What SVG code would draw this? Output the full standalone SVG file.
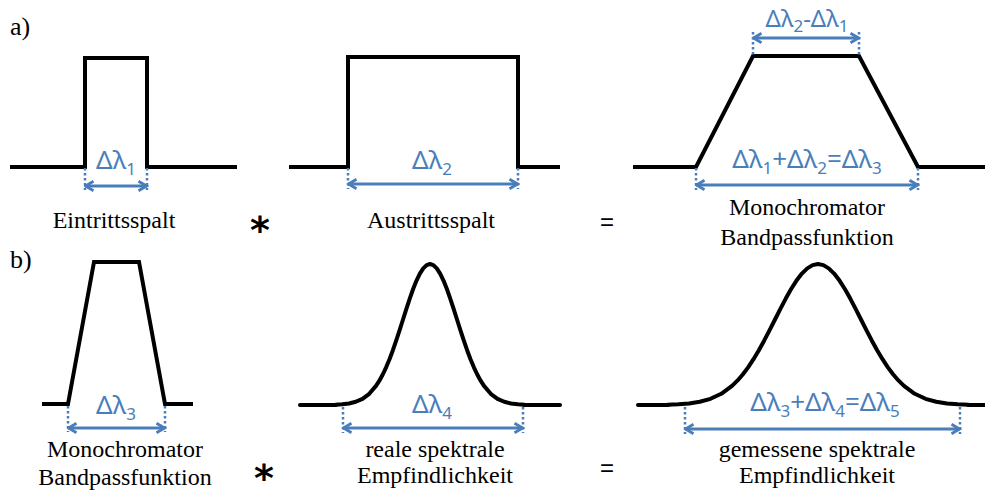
<svg xmlns="http://www.w3.org/2000/svg" width="985" height="499" viewBox="0 0 985 499">
<style>
.curve{fill:none;stroke:#000;stroke-width:4;stroke-linejoin:miter;stroke-linecap:butt}
.gauss{fill:none;stroke:#000;stroke-width:4;stroke-linejoin:round;stroke-linecap:round}
.dot{stroke:#4a7ebb;stroke-width:2.5;stroke-dasharray:2.5 2.5}
.arr{stroke:#4a7ebb;stroke-width:3;fill:none;marker-start:url(#ah);marker-end:url(#ah)}
.bl{font-family:'Noto Sans',sans-serif;font-size:26px;fill:#4a7ebb;text-anchor:middle}
.sub{font-size:17px}
.lab{font-family:'Times New Roman','Liberation Serif',serif;font-size:24px;fill:#000;text-anchor:middle}
.lt{font-family:'Times New Roman','Liberation Serif',serif;font-size:26px;fill:#000}
.op{font-family:'DejaVu Sans',sans-serif;font-weight:bold;font-size:38px;fill:#000;text-anchor:middle}
.eq{font-family:'Liberation Sans',Arial,sans-serif;font-size:24px;fill:#000;text-anchor:middle}
</style>
<defs>
<marker id="ah" viewBox="0 0 12 12" refX="10.5" refY="6" markerWidth="12" markerHeight="12" markerUnits="userSpaceOnUse" orient="auto-start-reverse">
<path d="M2,1.2 L10,6 L2,10.8" fill="none" stroke="#4a7ebb" stroke-width="2.8"/>
</marker>
</defs>

<text class="lt" x="10" y="35">a)</text>
<text class="lt" x="10" y="268">b)</text>

<g id="eintrittsspalt">
<polyline class="curve" points="10,167 85,167 85,58 147,58 147,167 237,167"/>
<text class="bl" x="116" y="169">Δλ<tspan class="sub" dy="6">1</tspan></text>
<text class="lab" x="114" y="228">Eintrittsspalt</text>
</g>

<g id="austrittsspalt">
<polyline class="curve" points="289,167 348,167 348,57 518,57 518,167 560,167"/>
<text class="bl" x="432" y="169">Δλ<tspan class="sub" dy="6">2</tspan></text>
<text class="lab" x="431" y="228">Austrittsspalt</text>
</g>

<g id="bandpass-a">
<polyline class="curve" points="633,167 696,167 753,56 859,56 918,167 985,167"/>
<text class="bl" x="807" y="27" style="font-size:24px">Δλ<tspan class="sub" dy="5">2</tspan><tspan dy="-5">-Δλ</tspan><tspan class="sub" dy="5">1</tspan></text>
<text class="bl" x="807" y="168">Δλ<tspan class="sub" dy="6">1</tspan><tspan dy="-6">+Δλ</tspan><tspan class="sub" dy="6">2</tspan><tspan dy="-6">=Δλ</tspan><tspan class="sub" dy="6">3</tspan></text>
<text class="lab" x="807" y="215">Monochromator</text>
<text class="lab" x="807" y="245">Bandpassfunktion</text>
</g>

<g id="bandpass-b">
<polyline class="curve" points="42,404 68,404 94,262 139,262 165,404 193,404"/>
<text class="bl" x="116" y="414">Δλ<tspan class="sub" dy="6">3</tspan></text>
<text class="lab" x="125" y="457">Monochromator</text>
<text class="lab" x="125" y="485">Bandpassfunktion</text>
</g>

<g id="reale-empfindlichkeit">
<line class="gauss" x1="300" y1="405" x2="336" y2="405"/>
<line class="gauss" x1="524" y1="405" x2="560" y2="405"/>
<polyline class="gauss" vector-effect="non-scaling-stroke" transform="translate(430,405) scale(27,141)" points="-3.5,-.0022 -3.25,-.0051 -3,-.0111 -2.75,-.0228 -2.5,-.0439 -2.25,-.0796 -2,-.1353 -1.875,-.1724 -1.75,-.2163 -1.625,-.2671 -1.5,-.3247 -1.375,-.3886 -1.25,-.4578 -1.125,-.5311 -1,-.6065 -.875,-.6819 -.75,-.7548 -.625,-.8226 -.5,-.8825 -.375,-.9321 -.25,-.9692 -.125,-.9922 0,-1 .125,-.9922 .25,-.9692 .375,-.9321 .5,-.8825 .625,-.8226 .75,-.7548 .875,-.6819 1,-.6065 1.125,-.5311 1.25,-.4578 1.375,-.3886 1.5,-.3247 1.625,-.2671 1.75,-.2163 1.875,-.1724 2,-.1353 2.25,-.0796 2.5,-.0439 2.75,-.0228 3,-.0111 3.25,-.0051 3.5,-.0022"/>
<text class="bl" x="432" y="413">Δλ<tspan class="sub" dy="6">4</tspan></text>
<text class="lab" x="435" y="457">reale spektrale</text>
<text class="lab" x="435" y="483">Empfindlichkeit</text>
</g>

<g id="gemessene-empfindlichkeit">
<line class="gauss" x1="638" y1="405" x2="668" y2="405"/>
<line class="gauss" x1="968" y1="405" x2="985" y2="405"/>
<polyline class="gauss" vector-effect="non-scaling-stroke" transform="translate(818,405) scale(43,141)" points="-3.5,-.0022 -3.25,-.0051 -3,-.0111 -2.75,-.0228 -2.5,-.0439 -2.25,-.0796 -2,-.1353 -1.875,-.1724 -1.75,-.2163 -1.625,-.2671 -1.5,-.3247 -1.375,-.3886 -1.25,-.4578 -1.125,-.5311 -1,-.6065 -.875,-.6819 -.75,-.7548 -.625,-.8226 -.5,-.8825 -.375,-.9321 -.25,-.9692 -.125,-.9922 0,-1 .125,-.9922 .25,-.9692 .375,-.9321 .5,-.8825 .625,-.8226 .75,-.7548 .875,-.6819 1,-.6065 1.125,-.5311 1.25,-.4578 1.375,-.3886 1.5,-.3247 1.625,-.2671 1.75,-.2163 1.875,-.1724 2,-.1353 2.25,-.0796 2.5,-.0439 2.75,-.0228 3,-.0111 3.25,-.0051 3.5,-.0022"/>
<text class="bl" x="825" y="411">Δλ<tspan class="sub" dy="6">3</tspan><tspan dy="-6">+Δλ</tspan><tspan class="sub" dy="6">4</tspan><tspan dy="-6">=Δλ</tspan><tspan class="sub" dy="6">5</tspan></text>
<text class="lab" x="817" y="457">gemessene spektrale</text>
<text class="lab" x="817" y="483">Empfindlichkeit</text>
</g>

<g id="operators">
<text class="op" x="260" y="243">*</text>
<text class="eq" x="607" y="230">=</text>
<text class="op" x="264" y="491">*</text>
<text class="eq" x="607" y="476">=</text>
</g>

<g id="connectors">
<line class="dot" x1="85" y1="168" x2="85" y2="190"/>
<line class="dot" x1="147" y1="168" x2="147" y2="190"/>
<line class="arr" x1="85" y1="186" x2="147" y2="186"/>
<line class="dot" x1="348" y1="168" x2="348" y2="189"/>
<line class="dot" x1="518" y1="168" x2="518" y2="189"/>
<line class="arr" x1="348" y1="184" x2="518" y2="184"/>
<line class="dot" x1="753" y1="32" x2="753" y2="55"/>
<line class="dot" x1="859" y1="32" x2="859" y2="55"/>
<line class="arr" x1="753" y1="38" x2="859" y2="38"/>
<line class="dot" x1="696" y1="168" x2="696" y2="190"/>
<line class="dot" x1="918" y1="168" x2="918" y2="190"/>
<line class="arr" x1="696" y1="185" x2="918" y2="185"/>
<line class="dot" x1="68" y1="406" x2="68" y2="432"/>
<line class="dot" x1="165" y1="406" x2="165" y2="432"/>
<line class="arr" x1="68" y1="428" x2="165" y2="428"/>
<line class="dot" x1="343" y1="407" x2="343" y2="433"/>
<line class="dot" x1="523" y1="407" x2="523" y2="433"/>
<line class="arr" x1="343" y1="428" x2="523" y2="428"/>
<line class="dot" x1="685" y1="407" x2="685" y2="434"/>
<line class="dot" x1="960" y1="407" x2="960" y2="434"/>
<line class="arr" x1="685" y1="429" x2="960" y2="429"/>
</g>
</svg>
